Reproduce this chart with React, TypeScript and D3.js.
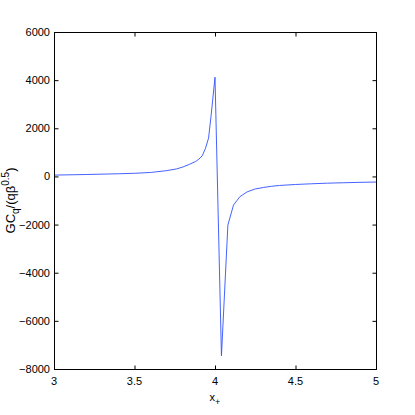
import React from "react";
import * as d3 from "d3";

const xValues = [3.0, 3.2, 3.4, 3.5, 3.6, 3.7, 3.76, 3.8, 3.84, 3.88, 3.9, 3.92, 3.94, 3.96, 3.975, 4.0, 4.04, 4.08, 4.115, 4.155, 4.2, 4.25, 4.3, 4.35, 4.4, 4.5, 4.6, 4.7, 4.8, 4.9, 5.0];
const yValues = [55, 80, 110, 130, 165, 240, 310, 390, 500, 620, 720, 850, 1150, 1590, 2480, 4120, -7450, -2020, -1190, -840, -640, -520, -460, -410, -375, -335, -305, -280, -262, -246, -233];
const xTicks = [3, 3.5, 4, 4.5, 5];
const yTicks = [-8000, -6000, -4000, -2000, 0, 2000, 4000, 6000];

export default function App() {
  const W = 415, H = 415;
  const left = 54, right = 376, top = 32, bottom = 369;
  const x = d3.scaleLinear().domain([3, 5]).range([left, right]);
  const y = d3.scaleLinear().domain([-8000, 6000]).range([bottom, top]);
  const line = d3.line<number>().x((_, i) => x(xValues[i])).y((d) => y(d));
  const tl = 4;
  const font = "Liberation Sans, Arial, sans-serif";
  return (
    <svg width={W} height={H} style={{ position: "absolute", left: 0, top: 0 }}>
      <rect x={0} y={0} width={W} height={H} fill="#fff" />
      <path d={line(yValues) || ""} fill="none" stroke="#3050ff" strokeWidth={0.9} />
      <rect x={left + 0.5} y={top + 0.5} width={right - left} height={bottom - top} fill="none" stroke="#000" strokeWidth={1} />
      {xTicks.map((t) => (
        <g key={"x" + t}>
          <line x1={x(t) + 0.5} x2={x(t) + 0.5} y1={bottom + 0.5} y2={bottom + 0.5 - tl} stroke="#000" />
          <line x1={x(t) + 0.5} x2={x(t) + 0.5} y1={top + 0.5} y2={top + 0.5 + tl} stroke="#000" />
          <text x={x(t)} y={385} fontSize={11} fontFamily={font} textAnchor="middle">{t}</text>
        </g>
      ))}
      {yTicks.map((t) => (
        <g key={"y" + t}>
          <line x1={left + 0.5} x2={left + 0.5 + tl} y1={y(t) + 0.5} y2={y(t) + 0.5} stroke="#000" />
          <line x1={right + 0.5} x2={right + 0.5 - tl} y1={y(t) + 0.5} y2={y(t) + 0.5} stroke="#000" />
          <text x={50} y={y(t) + 4} fontSize={11} fontFamily={font} textAnchor="end">{t < 0 ? "\u2212" + Math.abs(t) : t}</text>
        </g>
      ))}
      <text x={215} y={401} fontSize={11} fontFamily={font} textAnchor="middle">
        x<tspan dy={4} fontSize={9}>+</tspan>
      </text>
      <text transform={`translate(15,${(top + bottom) / 2}) rotate(-90)`} fontSize={13} fontFamily={font} textAnchor="middle">
        GC<tspan dy={4} fontSize={10}>q</tspan><tspan dy={-4}>/(qβ</tspan><tspan dy={-6} fontSize={10}>0.5</tspan><tspan dy={6}>)</tspan>
      </text>
    </svg>
  );
}
